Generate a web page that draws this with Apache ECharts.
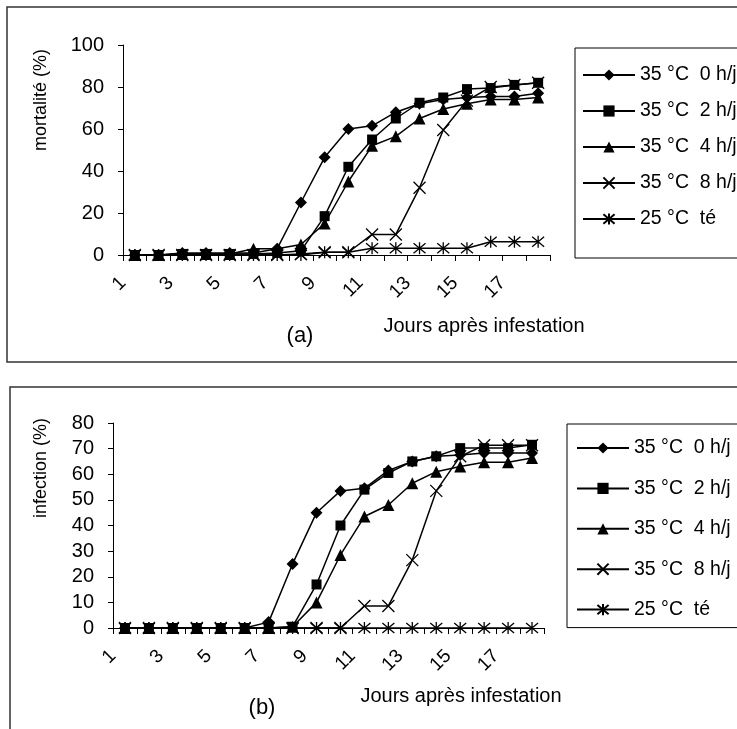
<!DOCTYPE html>
<html>
<head>
<meta charset="utf-8">
<script src="https://cdn.jsdelivr.net/npm/echarts@6/dist/echarts.min.js"></script>
<style>
  html, body { margin: 0; padding: 0; background: #fff; }
  #chart { width: 737px; height: 729px; }
</style>
</head>
<body>
<div id="chart"></div>
<script>
var chart = echarts.init(document.getElementById('chart'));

// days 1..18
var days = ['1','2','3','4','5','6','7','8','9','10','11','12','13','14','15','16','17','18'];
// labels sit on the tick marks (between days), every other one
var tickLabels = ['1','','3','','5','','7','','9','','11','','13','','15','','17','',''];

var seriesNames = ['35 °C  0 h/j', '35 °C  2 h/j', '35 °C  4 h/j', '35 °C  8 h/j', '25 °C  té'];

// (a) mortalité (%)
var mort0 = [0, 0, 1, 1, 1, 1, 3, 25, 46.5, 60, 61.5, 68, 72, 74, 75, 75.5, 75.5, 77];
var mort2 = [0, 0, 0.5, 0.5, 0.5, 0.5, 1, 2, 18.5, 42, 55, 65, 72.5, 75, 79, 79.5, 81, 82];
var mort4 = [0, 0, 0.5, 0.5, 0.5, 3, 3, 5, 15, 35, 52, 56.5, 65, 69.5, 72, 74, 74, 75];
var mort8 = [0, 0, 0, 0, 0, 0, 0, 0.5, 1.3, 1.3, 9.8, 9.8, 32, 59.5, 73.5, 80, 81, 82];
var mort25 = [0, 0, 0, 0, 0, 0, 0, 0, 1.3, 1.3, 3.2, 3.2, 3.2, 3.2, 3.2, 6.3, 6.3, 6.3];

// (b) infection (%)
var inf0 = [0, 0, 0, 0, 0, 0, 2.3, 25, 45, 53.5, 54.5, 61.5, 65, 67, 67.5, 68.3, 68.3, 68.3];
var inf2 = [0, 0, 0, 0, 0, 0, 0, 0.5, 17, 40, 54, 60.5, 65, 67, 70.2, 70.2, 70.2, 71.5];
var inf4 = [0, 0, 0, 0, 0, 0, 0, 0.5, 10, 28.5, 43.5, 48, 56.5, 61, 63, 64.7, 64.7, 66.3];
var inf8 = [0, 0, 0, 0, 0, 0, 0, 0, 0, 0, 8.6, 8.6, 26.5, 53.5, 67, 71.3, 71.3, 71.3];
var inf25 = [0, 0, 0, 0, 0, 0, 0, 0, 0, 0, 0, 0, 0, 0, 0, 0, 0, 0];

var FONT = 'Liberation Sans, Arial, sans-serif';
var symbols = [
  { symbol: 'diamond', size: 12, fill: '#000' },
  { symbol: 'rect', size: 10, fill: '#000' },
  { symbol: 'triangle', size: 12, fill: '#000' },
  { symbol: 'path://M0,0L10,10M10,0L0,10', size: 12, fill: 'transparent' },
  { symbol: 'path://M0,0L10,10M10,0L0,10M5,-1L5,11', size: 12, fill: 'transparent' }
];

function makeSeries(values, idx, gridIdx) {
  var s = symbols[idx];
  return {
    name: seriesNames[idx],
    type: 'line',
    xAxisIndex: gridIdx * 2,
    yAxisIndex: gridIdx,
    data: values,
    symbol: s.symbol,
    symbolSize: s.size,
    showAllSymbol: true,
    animation: false,
    lineStyle: { color: '#000', width: 1.5 },
    itemStyle: { color: s.fill, borderColor: '#000', borderWidth: s.fill === 'transparent' ? 1.3 : 0 }
  };
}

function dataAxis(gridIdx) {
  return {
    type: 'category',
    gridIndex: gridIdx,
    position: 'bottom',
    data: days,
    boundaryGap: true,
    axisLine: { lineStyle: { color: '#000', width: 1 } },
    axisTick: { show: true, interval: 0, length: 6, lineStyle: { color: '#000' } },
    axisLabel: { show: false },
    splitLine: { show: false }
  };
}

function labelAxis(gridIdx) {
  return {
    type: 'category',
    gridIndex: gridIdx,
    position: 'bottom',
    data: tickLabels,
    boundaryGap: false,
    axisLine: { show: false },
    axisTick: { show: false },
    axisLabel: { interval: 0, rotate: 45, margin: 25, fontSize: 19, color: '#000', fontFamily: FONT },
    splitLine: { show: false }
  };
}

function valueAxis(gridIdx, max, interval) {
  return {
    type: 'value',
    gridIndex: gridIdx,
    min: 0,
    max: max,
    interval: interval,
    axisLine: { show: true, lineStyle: { color: '#000', width: 1 } },
    axisTick: { show: true, length: 5, lineStyle: { color: '#000' } },
    axisLabel: { margin: 19, fontSize: 20, color: '#000', fontFamily: FONT },
    splitLine: { show: false }
  };
}

var legendCommon = {
  orient: 'vertical',
  data: seriesNames,
  itemWidth: 52,
  itemHeight: 14,
  itemGap: 16,
  borderColor: '#000',
  borderWidth: 1,
  backgroundColor: '#fff',
  selectedMode: false,
  textStyle: { fontSize: 19.5, color: '#000', fontFamily: FONT, lineHeight: 16 }
};

var option = {
  backgroundColor: '#fff',
  animation: false,
  grid: [
    { left: 123, right: 187, top: 45, bottom: 474 },
    { left: 113, right: 193, top: 423, bottom: 101 }
  ],
  xAxis: [dataAxis(0), labelAxis(0), dataAxis(1), labelAxis(1)],
  yAxis: [valueAxis(0, 100, 20), valueAxis(1, 80, 10)],
  legend: [
    Object.assign({}, legendCommon, { left: 575, top: 48, padding: [17, 10, 29, 7] }),
    Object.assign({}, legendCommon, { left: 567, top: 424, itemGap: 20.4, padding: [14, 8, 8, 9] })
  ],
  graphic: [
    { type: 'rect', shape: { x: 7, y: 7, width: 760, height: 355 }, style: { fill: 'none', stroke: '#333', lineWidth: 1.5 }, z: -10 },
    { type: 'rect', shape: { x: 10, y: 387, width: 760, height: 400 }, style: { fill: 'none', stroke: '#333', lineWidth: 1.5 }, z: -10 },
    { type: 'text', x: 41, y: 100, rotation: Math.PI / 2, style: { text: 'mortalité (%)', fontSize: 18, fontFamily: FONT, fill: '#000', align: 'center', verticalAlign: 'middle' } },
    { type: 'text', x: 41, y: 468, rotation: Math.PI / 2, style: { text: 'infection (%)', fontSize: 18, fontFamily: FONT, fill: '#000', align: 'center', verticalAlign: 'middle' } },
    { type: 'text', x: 484, y: 326, style: { text: 'Jours après infestation', fontSize: 20, fontFamily: FONT, fill: '#000', align: 'center', verticalAlign: 'middle' } },
    { type: 'text', x: 461, y: 696, style: { text: 'Jours après infestation', fontSize: 20, fontFamily: FONT, fill: '#000', align: 'center', verticalAlign: 'middle' } },
    { type: 'text', x: 300, y: 336, style: { text: '(a)', fontSize: 22, fontFamily: FONT, fill: '#000', align: 'center', verticalAlign: 'middle' } },
    { type: 'text', x: 262, y: 708, style: { text: '(b)', fontSize: 22, fontFamily: FONT, fill: '#000', align: 'center', verticalAlign: 'middle' } }
  ],
  series: [
    makeSeries(mort0, 0, 0), makeSeries(mort2, 1, 0), makeSeries(mort4, 2, 0), makeSeries(mort8, 3, 0), makeSeries(mort25, 4, 0),
    makeSeries(inf0, 0, 1), makeSeries(inf2, 1, 1), makeSeries(inf4, 2, 1), makeSeries(inf8, 3, 1), makeSeries(inf25, 4, 1)
  ]
};

chart.setOption(option);
</script>
</body>
</html>
